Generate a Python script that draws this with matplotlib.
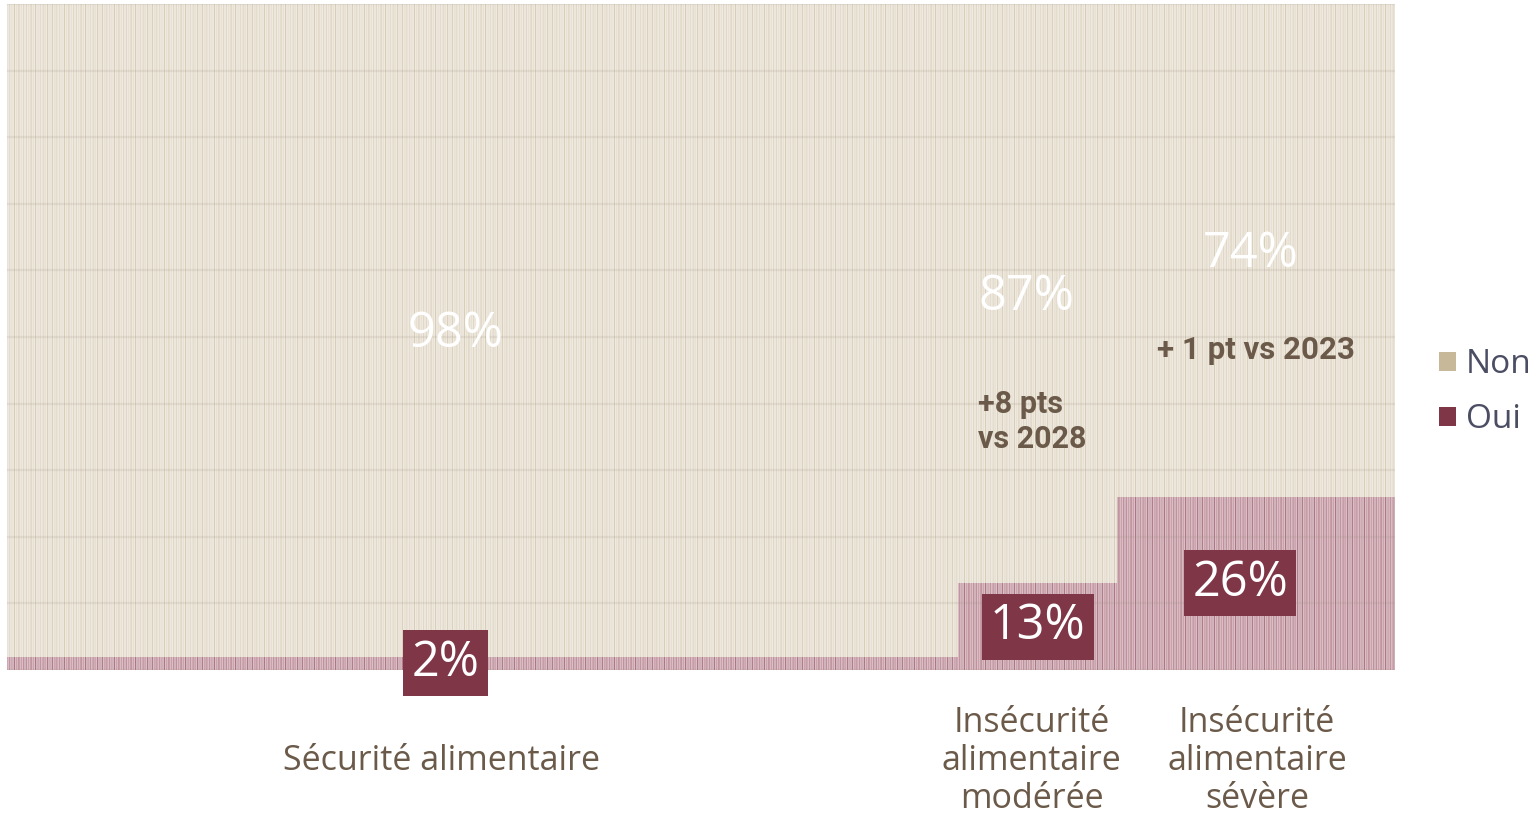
import numpy as np
import matplotlib
matplotlib.use("Agg")
import matplotlib.pyplot as plt
from matplotlib.patches import Patch

# ---- data ----
categories = ["Sécurité alimentaire",
              "Insécurité\nalimentaire\nmodérée",
              "Insécurité\nalimentaire\nsévère"]
widths = [68.5, 11.5, 20.0]          # share of the population (%)
oui = [2, 13, 26]
non = [98, 87, 74]
series_names = ["Non", "Oui"]
annotations = ["", "+8 pts\nvs 2028", "+ 1 pt vs 2023"]

# ---- style ----
NON_FACE = "#e7e0d3"
NON_STRIPE = "#d5c8ae"
NON_LIGHT = "#efeae1"
OUI_FACE = "#c8a1ab"
OUI_STRIPE = "#a66b7b"
OUI_LIGHT = "#dbbfc6"
OUI_DARK = "#7f3646"
NON_LEG = "#c8b89a"
TEXT_BROWN = "#6b5a49"
LEG_TEXT = "#4b4d63"
FONT = "Open Sans"

plt.rcParams["hatch.linewidth"] = 0.9
plt.rcParams["font.family"] = [FONT, "DejaVu Sans"]

DPI = 100
fig = plt.figure(figsize=(15.36, 8.15), dpi=DPI)
ax = fig.add_axes([7 / 1536, 1 - 670 / 815, (1395 - 7) / 1536, (670 - 4) / 815])

lefts = np.concatenate([[0], np.cumsum(widths)[:-1]])
centers = lefts + np.array(widths) / 2

# Oui (bottom) and Non (top) with striped texture
for vals, bottom, face, stripe, light in [
        (oui, 0, OUI_FACE, OUI_STRIPE, OUI_LIGHT),
        (non, oui, NON_FACE, NON_STRIPE, NON_LIGHT)]:
    ax.bar(lefts, vals, width=widths, bottom=bottom, align="edge",
           color=face, linewidth=0, zorder=1)
    ax.bar(lefts, vals, width=widths, bottom=bottom, align="edge",
           facecolor="none", edgecolor=stripe, hatch="|" * 4, linewidth=0, zorder=2)
    ax.bar(lefts, vals, width=widths, bottom=bottom, align="edge",
           facecolor="none", edgecolor=light, hatch="|" * 7, linewidth=0, zorder=2)

ax.set_xlim(0, 100)
ax.set_ylim(0, 100)
ax.set_yticks(np.arange(0, 101, 10))
ax.set_xticks([])
ax.tick_params(left=False, labelleft=False)
ax.grid(axis="y", color="#9c907e", alpha=0.15, linewidth=1.6, zorder=3)
ax.set_axisbelow(False)
for s in ax.spines.values():
    s.set_visible(False)

pt = 72 / DPI  # px -> points

# Non labels (white)
non_dx = [-27, -11, -6]
for c, o, n, dx in zip(centers, oui, non, non_dx):
    ax.annotate(f"{n}%", (c, o + n / 2), xytext=(dx * pt, -4 * pt), textcoords="offset points",
                ha="center", va="center", color="white", fontsize=35,
                fontweight="normal", zorder=5)

# Oui labels in dark boxes
oui_dx = [-37, 0, -16]
for c, o, dx in zip(centers, oui, oui_dx):
    ax.annotate(f"{o}%", (c, o / 2), xytext=(dx * pt, 0), textcoords="offset points",
                ha="center", va="center", color="white", fontsize=35,
                fontweight="normal", zorder=6, annotation_clip=False,
                bbox=dict(boxstyle="square,pad=0.17", facecolor=OUI_DARK, edgecolor="none"))

# comparison annotations
ax.annotate(annotations[1], (lefts[1], 37.3), xytext=(20 * pt, 0), textcoords="offset points",
            ha="left", va="center", color=TEXT_BROWN, fontsize=22, fontweight="bold",
            linespacing=1.2, family=["Roboto", "DejaVu Sans"], zorder=5)
ax.annotate(annotations[2], (centers[2], 48.0), ha="center", va="center",
            color=TEXT_BROWN, fontsize=22.5, fontweight="bold",
            family=["Roboto", "DejaVu Sans"], zorder=5)

# category labels below the axis
cat_dx = [-41, -6, 1]
for c, lab, dx in zip(centers, categories, cat_dx):
    ax.annotate(lab, (c, 0), xytext=(dx * pt, -91 * pt), textcoords="offset points",
                ha="center", va="center", color=TEXT_BROWN, fontsize=24.5,
                linespacing=1.17, annotation_clip=False)

# legend
handles = [Patch(facecolor=NON_LEG, edgecolor="none"),
           Patch(facecolor=OUI_DARK, edgecolor="none")]
leg = fig.legend(handles, series_names, loc="center left",
                 bbox_to_anchor=(1439 / 1536, 1 - 392 / 815), frameon=False,
                 fontsize=24, handlelength=0.5, handleheight=0.5, handletextpad=0.3,
                 labelspacing=0.66, borderpad=0, borderaxespad=0)
for t in leg.get_texts():
    t.set_color(LEG_TEXT)

fig.savefig("out.png", dpi=DPI, facecolor="white")
